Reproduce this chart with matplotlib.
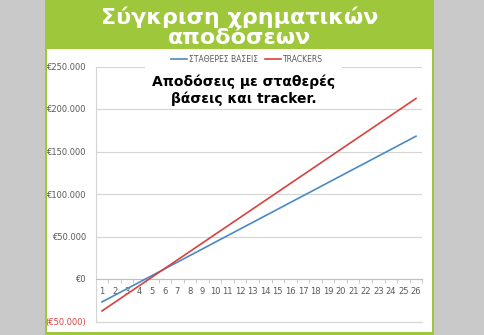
import matplotlib.pyplot as plt
from matplotlib.patches import Rectangle

W, H = 485, 335

years = list(range(1, 27))
stathera = [-27000, -19200, -11400, -3600, 4200, 12000, 19800, 27600, 35400, 43200,
            51000, 58800, 66600, 74400, 82200, 90000, 97800, 105600, 113400, 121200,
            129000, 136800, 144600, 152400, 160200, 168000]
trackers = [-37600, -27600, -17600, -7600, 2400, 12400, 22400, 32400, 42400, 52400,
            62400, 72400, 82400, 92400, 102400, 112400, 122400, 132400, 142400, 152400,
            162400, 172400, 182400, 192400, 202400, 212400]
y_ticks = [-50000, 0, 50000, 100000, 150000, 200000, 250000]
y_labels = ['(€50.000)', '€0', '€50.000', '€100.000', '€150.000', '€200.000', '€250.000']

GREEN = '#9fc73b'
GRAY_BG = '#c9c9c9'
BLUE = '#4a89c5'
RED = '#d8423f'
TXT = '#595959'


def fx(px):
    return px / W


def fy(py):
    return 1 - py / H


fig = plt.figure(figsize=(W / 100, H / 100), dpi=100)
fig.patch.set_facecolor(GRAY_BG)

# green panel and white chart area
fig.patches.append(Rectangle((fx(45), 0), fx(434) - fx(45), 1, transform=fig.transFigure,
                             facecolor=GREEN, edgecolor='none', zorder=-2))
fig.patches.append(Rectangle((fx(47), fy(332)), fx(432) - fx(47), fy(49) - fy(332),
                             transform=fig.transFigure, facecolor='white',
                             edgecolor='none', zorder=-1))

fig.text(fx(240), fy(17), 'Σύγκριση χρηματικών', color='white', fontsize=16,
         fontweight='bold', ha='center', va='center')
fig.text(fx(240), fy(38), 'αποδόσεων', color='white', fontsize=16,
         fontweight='bold', ha='center', va='center')

ax = fig.add_axes([fx(95.7), fy(321.5), fx(422.3) - fx(95.7), fy(66.5) - fy(321.5)])
ax.set_facecolor('none')
ax.set_zorder(1)

l1, = ax.plot(years, stathera, color=BLUE, lw=1.2, label='ΣΤΑΘΕΡΕΣ ΒΑΣΕΙΣ', zorder=3)
l2, = ax.plot(years, trackers, color=RED, lw=1.2, label='TRACKERS', zorder=3)

ax.set_xlim(0.5, 26.5)
ax.set_ylim(-50000, 250000)
ax.set_yticks(y_ticks)
ax.set_yticklabels(y_labels)
ax.set_xticks(years)
ax.set_xticklabels([str(y) for y in years])
ax.set_xticks([y + 0.5 for y in range(0, 27)], minor=True)

ax.grid(axis='y', color='#d4d4d4', lw=0.8, zorder=0)
ax.axhline(y_ticks[0], color='#d4d4d4', lw=0.8, clip_on=False, zorder=0)
for s in ['top', 'right']:
    ax.spines[s].set_visible(False)
ax.spines['left'].set_color('#d4d4d4')
ax.spines['bottom'].set_position(('data', 0))
ax.spines['bottom'].set_color('#bfbfbf')
ax.tick_params(axis='y', length=0, labelsize=6, colors=TXT, pad=7)
ax.tick_params(axis='x', which='major', length=0, labelsize=6, colors=TXT, pad=6)
ax.tick_params(axis='x', which='minor', length=3, color='#bfbfbf', direction='out')
ax.get_yticklabels()[0].set_color(RED)

fig.legend(handles=[l1, l2], loc='center', bbox_to_anchor=(fx(247), fy(59)), ncol=2,
           frameon=False, fontsize=5.5, labelcolor=TXT, handlelength=2.1,
           columnspacing=0.8, handletextpad=0.3)

# subtitle box covering part of the top gridline
fig.patches.append(Rectangle((fx(145), fy(106)), fx(342) - fx(145), fy(67) - fy(106),
                             transform=fig.transFigure, facecolor='white',
                             edgecolor='none', zorder=2))
fig.text(fx(244), fy(82), 'Αποδόσεις με σταθερές', color='black', fontsize=10,
         fontweight='bold', ha='center', va='center', zorder=3)
fig.text(fx(244), fy(99), 'βάσεις και tracker.', color='black', fontsize=10,
         fontweight='bold', ha='center', va='center', zorder=3)

fig.savefig('out.png', dpi=100, facecolor=fig.get_facecolor())
